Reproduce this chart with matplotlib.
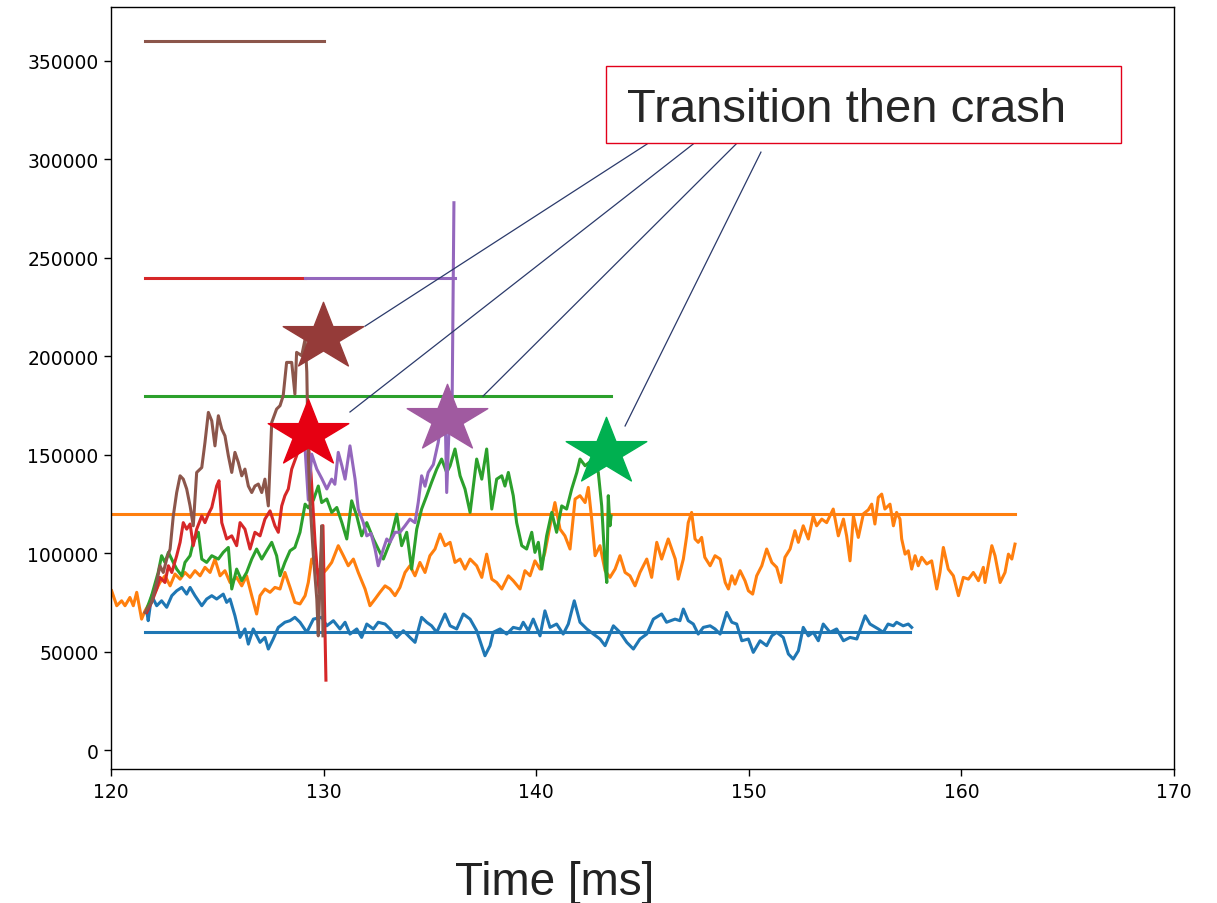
import numpy as np
import matplotlib.pyplot as plt
from matplotlib.path import Path
from matplotlib.patches import Rectangle

# time [ms], value [thousands]
blue = np.array([
    [121.68, 70.7], [121.75, 65.7], [121.91, 78.4], [122.15, 73.3], [122.38, 75.8],
    [122.62, 72.5], [122.86, 78.4], [123.09, 80.9], [123.33, 82.6], [123.56, 79.2],
    [123.72, 82.6], [123.95, 78.4], [124.27, 73.3], [124.50, 76.7], [124.74, 78.4],
    [124.97, 76.7], [125.28, 79.2], [125.44, 75.0], [125.60, 76.7], [125.83, 68.2],
    [126.07, 57.2], [126.30, 61.5], [126.46, 53.8], [126.69, 61.5], [127.01, 54.7],
    [127.24, 57.2], [127.40, 51.3], [127.63, 56.4], [127.87, 62.3], [128.18, 64.9],
    [128.42, 65.7], [128.65, 67.4], [128.89, 64.9], [129.21, 59.8], [129.52, 66.5],
    [129.91, 67.4], [130.15, 63.1], [130.46, 65.7], [130.77, 61.5], [131.01, 64.9],
    [131.24, 58.9], [131.56, 61.5], [131.79, 57.2], [132.03, 64.0], [132.34, 61.5],
    [132.57, 64.9], [132.89, 64.0], [133.12, 61.5], [133.44, 57.2], [133.75, 60.6],
    [134.06, 57.2], [134.30, 54.7], [134.61, 67.4], [134.85, 64.9], [135.08, 63.1],
    [135.32, 59.8], [135.71, 69.1], [135.95, 63.1], [136.26, 61.5], [136.57, 69.1],
    [136.89, 66.5], [137.20, 60.6], [137.59, 47.9], [137.83, 53.0], [137.98, 59.8],
    [138.30, 61.5], [138.61, 58.9], [138.92, 62.3], [139.24, 61.5], [139.39, 64.9],
    [139.63, 60.6], [139.86, 66.5], [140.18, 58.0], [140.41, 70.7], [140.65, 62.3],
    [140.96, 64.0], [141.27, 58.9], [141.51, 64.0], [141.79, 75.8], [142.06, 64.9],
    [142.38, 61.5], [142.69, 58.9], [143.00, 56.4], [143.24, 53.0], [143.63, 63.1],
    [143.94, 59.8], [144.26, 54.7], [144.57, 51.3], [144.88, 56.4], [145.20, 58.9],
    [145.51, 66.5], [145.90, 69.1], [146.13, 64.9], [146.53, 66.5], [146.76, 65.7],
    [146.92, 71.6], [147.15, 65.7], [147.39, 64.0], [147.62, 58.9], [147.86, 62.3],
    [148.18, 63.1], [148.41, 61.5], [148.65, 58.9], [148.96, 69.9], [149.20, 64.9],
    [149.43, 64.0], [149.67, 55.5], [149.98, 56.4], [150.21, 49.6], [150.53, 55.5],
    [150.84, 53.0], [151.08, 58.0], [151.31, 59.8], [151.62, 57.2], [151.86, 48.8],
    [152.09, 46.2], [152.33, 50.4], [152.56, 62.3], [152.80, 58.0], [153.03, 59.8],
    [153.27, 55.5], [153.50, 64.0], [153.82, 59.8], [154.13, 61.5], [154.45, 55.5],
    [154.76, 57.2], [155.08, 56.4], [155.47, 68.2], [155.70, 64.0], [156.09, 61.5],
    [156.32, 59.8], [156.55, 64.0], [156.80, 63.1], [156.95, 64.9], [157.26, 63.1],
    [157.50, 64.0], [157.66, 62.3],
])

orange = np.array([
    [120.03, 80.9], [120.27, 73.3], [120.50, 75.8], [120.66, 73.3], [120.89, 77.5],
    [121.05, 73.3], [121.21, 80.1], [121.44, 66.5], [121.60, 70.7], [121.83, 75.0],
    [122.07, 80.1], [122.30, 85.1], [122.54, 88.5], [122.78, 83.4], [123.01, 89.4],
    [123.25, 86.8], [123.48, 90.2], [123.72, 87.7], [123.95, 91.1], [124.19, 88.5],
    [124.42, 92.8], [124.66, 90.2], [124.89, 97.0], [125.13, 88.5], [125.36, 91.1],
    [125.60, 85.1], [125.91, 87.7], [126.15, 83.4], [126.38, 88.5], [126.62, 78.4],
    [126.85, 69.1], [127.01, 78.4], [127.24, 81.8], [127.48, 80.1], [127.71, 82.6],
    [127.95, 81.8], [128.18, 90.2], [128.42, 82.6], [128.65, 75.0], [128.89, 74.2],
    [129.13, 78.4], [129.28, 85.1], [129.44, 97.0], [129.68, 92.0], [129.99, 90.0],
    [130.15, 91.9], [130.38, 95.3], [130.69, 103.8], [130.93, 98.7], [131.16, 93.6],
    [131.40, 97.0], [131.63, 90.2], [131.95, 81.8], [132.18, 73.3], [132.42, 76.7],
    [132.65, 80.1], [132.89, 83.4], [133.12, 81.8], [133.36, 78.4], [133.59, 82.6],
    [133.83, 90.2], [134.06, 93.6], [134.30, 88.5], [134.53, 95.3], [134.77, 90.2],
    [135.00, 98.7], [135.24, 102.1], [135.48, 109.7], [135.71, 103.8], [135.95, 105.5],
    [136.18, 95.3], [136.42, 97.0], [136.65, 91.9], [136.89, 97.0], [137.20, 93.6],
    [137.44, 87.7], [137.67, 99.5], [137.91, 86.8], [138.14, 85.1], [138.38, 81.8],
    [138.69, 88.5], [138.92, 86.0], [139.24, 81.8], [139.47, 91.1], [139.71, 88.5],
    [139.94, 96.1], [140.18, 91.9], [140.41, 100.4], [140.65, 113.9], [140.88, 125.7],
    [141.12, 112.2], [141.35, 108.8], [141.59, 102.1], [141.83, 127.5], [142.06, 129.2],
    [142.30, 125.7], [142.45, 133.4], [142.61, 117.3], [142.77, 98.7], [143.00, 103.8],
    [143.24, 91.1], [143.47, 87.7], [143.71, 91.9], [143.94, 98.7], [144.18, 90.2],
    [144.41, 88.5], [144.65, 83.4], [144.88, 90.2], [145.20, 97.0], [145.43, 87.7],
    [145.67, 105.5], [145.90, 97.0], [146.21, 107.2], [146.54, 97.0], [146.68, 86.8],
    [146.92, 97.0], [147.08, 108.8], [147.15, 115.5], [147.31, 120.7], [147.47, 107.2],
    [147.62, 105.5], [147.78, 108.0], [147.93, 97.9], [148.18, 93.6], [148.41, 98.7],
    [148.65, 97.0], [148.89, 85.1], [149.04, 81.8], [149.20, 88.5], [149.35, 84.3],
    [149.59, 91.1], [149.82, 86.0], [149.98, 80.9], [150.18, 79.2], [150.37, 88.5],
    [150.61, 93.6], [150.84, 102.1], [151.08, 95.3], [151.31, 92.8], [151.51, 85.1],
    [151.70, 97.9], [151.94, 102.1], [152.17, 111.4], [152.33, 105.5], [152.56, 113.9],
    [152.80, 107.2], [153.03, 118.9], [153.19, 113.9], [153.43, 117.3], [153.66, 115.5],
    [153.97, 122.4], [154.21, 108.8], [154.45, 117.3], [154.60, 108.8], [154.76, 96.1],
    [154.92, 118.9], [155.15, 108.0], [155.39, 120.0], [155.62, 122.0], [155.78, 124.9],
    [155.93, 114.8], [156.09, 128.3], [156.25, 130.0], [156.40, 122.4], [156.64, 124.9],
    [156.80, 113.9], [156.95, 120.7], [157.11, 117.3], [157.19, 107.2], [157.35, 99.5],
    [157.50, 101.2], [157.66, 91.9], [157.82, 98.7], [157.97, 93.6], [158.13, 97.9],
    [158.37, 94.5], [158.60, 96.1], [158.84, 81.8], [158.99, 90.2], [159.15, 102.9],
    [159.38, 91.9], [159.62, 88.5], [159.86, 78.4], [160.09, 87.7], [160.33, 86.8],
    [160.56, 90.2], [160.80, 86.0], [161.03, 92.8], [161.11, 85.1], [161.43, 103.8],
    [161.58, 98.7], [161.82, 85.1], [162.05, 90.2], [162.21, 99.5], [162.37, 97.0],
    [162.52, 104.6],
])

green = np.array([
    [121.68, 71.6], [121.91, 78.4], [122.22, 90.2], [122.38, 98.7], [122.54, 95.3],
    [122.70, 100.4], [122.93, 95.3], [123.09, 91.9], [123.33, 88.5], [123.48, 95.3],
    [123.72, 98.7], [123.87, 105.5], [124.11, 110.6], [124.27, 97.0], [124.50, 95.3],
    [124.74, 98.7], [125.05, 97.0], [125.28, 100.4], [125.52, 102.9], [125.68, 81.8],
    [125.91, 91.9], [126.15, 86.0], [126.38, 90.2], [126.62, 97.0], [126.85, 102.1],
    [127.09, 97.0], [127.32, 101.2], [127.56, 105.5], [127.79, 98.7], [127.95, 88.5],
    [128.18, 95.3], [128.42, 101.2], [128.65, 102.9], [128.89, 110.6], [129.13, 124.9],
    [129.28, 123.0], [129.52, 127.0], [129.75, 134.1], [129.91, 125.7], [130.15, 127.5],
    [130.38, 120.7], [130.62, 123.2], [130.86, 115.5], [131.09, 107.2], [131.32, 126.6],
    [131.56, 118.9], [131.79, 108.8], [132.03, 115.5], [132.34, 107.2], [132.57, 102.1],
    [132.81, 97.0], [133.12, 105.5], [133.44, 119.8], [133.67, 103.8], [133.91, 110.6],
    [134.14, 91.9], [134.38, 112.2], [134.61, 122.4], [134.85, 129.2], [135.08, 136.0],
    [135.32, 142.7], [135.55, 147.8], [135.79, 141.0], [135.95, 144.4], [136.18, 152.9],
    [136.42, 139.3], [136.65, 132.6], [136.89, 120.7], [137.20, 147.8], [137.44, 137.6],
    [137.67, 152.9], [137.91, 122.4], [138.14, 137.6], [138.38, 139.3], [138.53, 134.1],
    [138.69, 141.0], [138.92, 129.2], [139.08, 115.5], [139.32, 103.8], [139.55, 102.1],
    [139.79, 110.6], [139.94, 100.4], [140.10, 105.5], [140.26, 91.9], [140.49, 108.8],
    [140.73, 120.7], [140.96, 110.6], [141.20, 124.0], [141.43, 122.4], [141.67, 132.6],
    [141.91, 141.0], [142.06, 147.8], [142.30, 144.4], [142.69, 147.8], [142.92, 141.0],
    [143.08, 124.0], [143.24, 93.6], [143.32, 85.1], [143.39, 129.2], [143.47, 113.9],
    [143.52, 118.9],
])

red = np.array([
    [121.68, 69.9], [121.91, 75.0], [122.15, 81.8], [122.30, 87.7], [122.54, 85.1],
    [122.70, 93.6], [122.86, 90.2], [123.09, 98.7], [123.25, 105.5], [123.40, 115.5],
    [123.56, 112.2], [123.72, 114.8], [123.87, 103.8], [124.03, 112.2], [124.27, 118.9],
    [124.42, 115.5], [124.58, 119.8], [124.74, 123.2], [124.97, 134.1], [125.08, 136.8],
    [125.21, 115.5], [125.44, 107.2], [125.68, 108.8], [125.91, 103.8], [126.07, 115.5],
    [126.30, 112.2], [126.54, 102.1], [126.77, 110.6], [127.01, 108.8], [127.24, 117.3],
    [127.48, 121.5], [127.71, 113.9], [127.87, 110.6], [128.03, 124.0], [128.18, 129.2],
    [128.34, 132.6], [128.50, 142.7], [128.73, 149.5], [128.98, 158.0], [129.22, 163.0],
    [129.41, 140.0], [129.60, 105.0], [129.79, 80.0], [129.97, 114.0], [130.11, 35.5],
])

purple = np.array([
    [129.13, 152.9], [129.28, 127.0], [129.44, 150.3], [129.68, 142.7], [129.91, 138.0],
    [130.15, 132.6], [130.38, 137.6], [130.53, 135.0], [130.69, 151.2], [130.86, 144.4],
    [131.01, 137.6], [131.24, 154.5], [131.48, 137.6], [131.63, 122.4], [131.87, 115.5],
    [132.03, 108.8], [132.23, 110.0], [132.42, 102.1], [132.57, 93.6], [132.81, 102.1],
    [132.97, 107.2], [133.12, 105.5], [133.36, 110.6], [133.59, 110.6], [133.83, 113.9],
    [134.06, 117.3], [134.30, 115.5], [134.45, 125.7], [134.61, 139.3], [134.77, 134.0],
    [134.92, 141.0], [135.16, 145.0], [135.39, 156.2], [135.55, 168.1], [135.71, 175.0],
    [135.79, 130.8], [135.91, 166.5], [136.04, 170.0], [136.13, 278.0],
])

brown = np.array([
    [121.60, 69.9], [121.91, 75.0], [122.15, 85.1], [122.30, 93.6], [122.46, 90.2],
    [122.62, 97.0], [122.78, 102.1], [122.93, 118.9], [123.09, 130.8], [123.25, 139.3],
    [123.40, 137.6], [123.56, 132.6], [123.72, 124.0], [123.87, 113.9], [124.03, 141.0],
    [124.27, 143.5], [124.42, 156.2], [124.58, 171.5], [124.74, 167.2], [124.89, 154.5],
    [125.05, 169.8], [125.21, 163.0], [125.36, 159.6], [125.52, 149.5], [125.68, 141.0],
    [125.83, 151.2], [125.99, 146.1], [126.15, 139.3], [126.30, 142.7], [126.46, 134.1],
    [126.62, 130.8], [126.77, 134.1], [126.93, 135.1], [127.09, 130.8], [127.24, 137.6],
    [127.40, 124.0], [127.56, 166.4], [127.79, 173.2], [127.95, 174.9], [128.10, 180.0],
    [128.26, 196.9], [128.50, 196.9], [128.65, 180.8], [128.73, 202.0], [128.97, 200.3],
    [129.13, 208.7], [129.21, 192.0], [129.28, 149.5], [129.36, 126.0], [129.52, 98.7],
    [129.68, 76.7], [129.75, 58.0], [129.83, 85.0], [129.91, 113.9], [129.97, 58.0],
])

# target levels and the time span each one is drawn over
levels = [60000, 120000, 180000, 240000, 240000, 360000]
level_start = [121.6, 115.0, 121.6, 121.6, 129.13, 121.6]
level_end = [157.6, 162.52, 143.52, 129.13, 136.18, 130.02]

series = [blue, orange, green, red, purple, brown]
colors = ['#1f77b4', '#ff7f0e', '#2ca02c', '#d62728', '#9467bd', '#8c564b']

# crash markers (time, value) and their colours
star_t = [129.97, 129.27, 135.80, 143.28]
star_v = [209800, 160500, 168100, 151300]
star_colors = ['#953b39', '#e60012', '#a05aa0', '#00b050']

# leader lines from the note box to each star
leader_from_t = [145.21, 147.38, 149.40, 150.57]
leader_from_v = [307800, 307800, 307800, 303700]
leader_to_t = [131.95, 131.24, 137.50, 144.18]
leader_to_v = [215300, 171700, 179800, 164600]

# squashed five-point star used as the marker
ang = np.pi / 2 + np.arange(10) * np.pi / 5
rad = np.where(np.arange(10) % 2 == 0, 1.0, 0.382)
verts = np.column_stack([rad * np.cos(ang), 0.83 * rad * np.sin(ang)])
verts = np.vstack([verts, verts[:1]])
star = Path(verts, [Path.MOVETO] + [Path.LINETO] * 9 + [Path.CLOSEPOLY])

fig = plt.figure(figsize=(12.17, 9.04), dpi=100)
ax = fig.add_axes([0.0912, 0.1482, 0.8735, 0.8429])

for data, level, t0, t1, c in zip(series, levels, level_start, level_end, colors):
    ax.plot(data[:, 0], data[:, 1] * 1000, color=c, lw=2.2)
    ax.plot([t0, t1], [level, level], color=c, lw=2.2)

for t, v, c in zip(star_t, star_v, star_colors):
    ax.plot(t, v, marker=star, markersize=58, color=c, linestyle='none', zorder=5)

for x0, y0, x1, y1 in zip(leader_from_t, leader_from_v, leader_to_t, leader_to_v):
    ax.plot([x0, x1], [y0, y1], color='#2b3a6b', lw=0.9, zorder=6)

ax.add_patch(Rectangle((0.4657, 0.8215), 0.4844, 0.1011, transform=ax.transAxes,
                       facecolor='white', edgecolor='#e2001a', lw=1.0, zorder=7))
ax.text(0.4854, 0.8505, 'Transition then crash', transform=ax.transAxes,
        fontsize=34, family='Liberation Sans', color='#262626', va='baseline',
        zorder=8)

ax.set_xlim(120, 170)
ax.set_ylim(-9650, 377400)
ax.set_xticks(np.arange(120, 171, 10))
ax.set_yticks(np.arange(0, 350001, 50000))
ax.tick_params(labelsize=13.5, length=5, width=1, pad=4)
for s in ax.spines.values():
    s.set_linewidth(1.0)

fig.text(0.456, 0.0099, 'Time [ms]', fontsize=33, family='Liberation Sans',
         color='#222222', ha='center', va='baseline')

fig.savefig('out.png', dpi=100)
